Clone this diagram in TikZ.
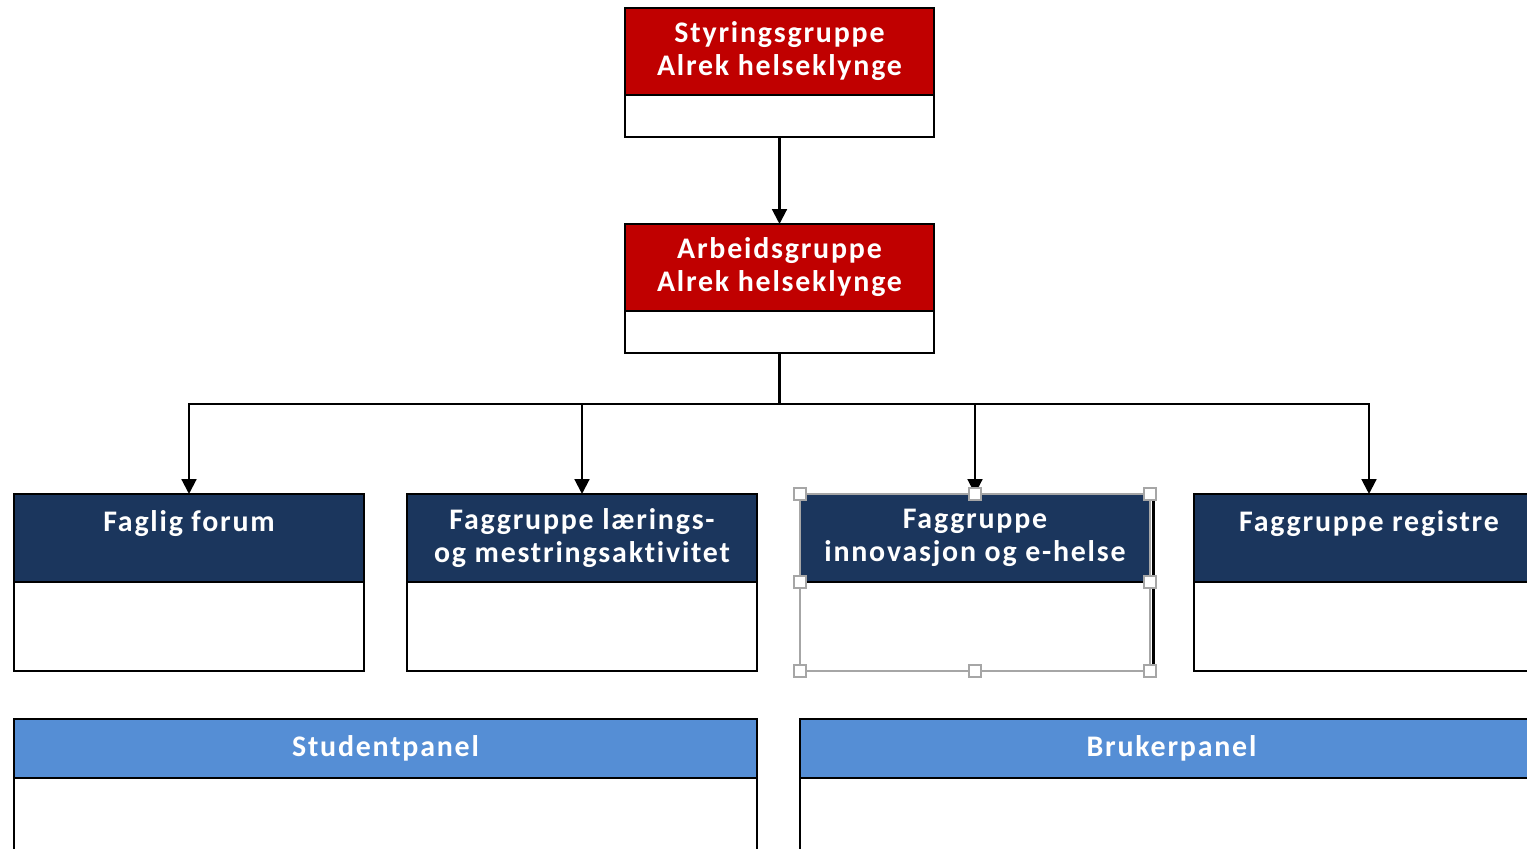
\documentclass[tikz,border=0pt]{standalone}
\usepackage{fontspec}
\setmainfont{Carlito}
\newfontfamily\boxfont[LetterSpace=6,Ligatures=NoCommon]{Carlito}
\usetikzlibrary{positioning,arrows.meta}

\definecolor{alrekred}{RGB}{192,0,0}
\definecolor{alreknavy}{RGB}{27,54,93}
\definecolor{alrekblue}{RGB}{85,142,213}

\tikzset{
  head/.style={draw=black, line width=0.6pt, text=white, align=center,
    inner sep=0pt, outer sep=0pt,
    font=\boxfont\bfseries\fontsize{8.5}{9.4}\selectfont},
  redhead/.style={head, fill=alrekred, minimum width=3.08cm, minimum height=0.87cm},
  navyhead/.style={head, fill=alreknavy, minimum width=3.5cm, minimum height=0.88cm},
  bluehead/.style={head, fill=alrekblue, minimum width=7.43cm, minimum height=0.59cm},
  bodybox/.style={draw=black, fill=white, line width=0.6pt, inner sep=0pt, outer sep=0pt},
  arr/.style={line width=0.6pt, -{Triangle[length=4.2pt,width=4.2pt]}},
  grip/.style={draw=gray!70, fill=white, line width=0.5pt}
}

\begin{document}
\begin{tikzpicture}[x=0.01cm,y=-0.01cm]

    \clip (0,0) rectangle (1527,848);
    \fill[white] (0,0) rectangle (1527,848);

    % top: styring and arbeid
    \node[redhead] (sty) at (779.5,51.5) {Styringsgruppe\\Alrek helseklynge};
    \node[bodybox, minimum width=3.08cm, minimum height=0.42cm, below=0pt of sty] (styb) {};
    \node[redhead] (arb) at (779.5,267.5) {Arbeidsgruppe\\Alrek helseklynge};
    \node[bodybox, minimum width=3.08cm, minimum height=0.42cm, below=0pt of arb] (arbb) {};

    % faggrupper
    \node[navyhead] (fag) at (189,538) {Faglig forum\\\mbox{}};
    \node[bodybox, minimum width=3.5cm, minimum height=0.89cm, below=0pt of fag] (fagb) {};
    \node[navyhead] (lar) at (582,538) {Faggruppe lærings-\\og mestringsaktivitet};
    \node[bodybox, minimum width=3.5cm, minimum height=0.89cm, below=0pt of lar] (larb) {};
    \node[navyhead, draw=gray!70] (inn) at (975,538) {Faggruppe\\innovasjon og e-helse};
    \node[bodybox, draw=gray!70, minimum width=3.5cm, minimum height=0.89cm, below=0pt of inn] (innb) {};
    \node[navyhead] (reg) at (1369,538) {Faggruppe registre\\\mbox{}};
    \node[bodybox, minimum width=3.5cm, minimum height=0.89cm, below=0pt of reg] (regb) {};

    % panels
    \node[bluehead] (stu) at (385.5,748.5) {Studentpanel};
    \node[bodybox, minimum width=7.43cm, minimum height=1cm, below=0pt of stu] (stub) {};
    \node[bluehead] (bru) at (1171.5,748.5) {Brukerpanel};
    \node[bodybox, minimum width=7.43cm, minimum height=1cm, below=0pt of bru] (brub) {};

    \draw[arr] (styb.south) -- (arb.north);
    \coordinate (split) at (779.5,404);
    \draw[line width=0.6pt] (arbb.south) -- (split);
    \foreach \n in {fag,lar,inn,reg}
        \draw[arr] (split) -| (\n.north);

    % selection frame
    \draw[line width=0.6pt] (inn.south west) -- (inn.south east);
    \draw[line width=0.8pt] ([xshift=1pt]inn.north east) -- ([xshift=1pt]innb.south east);
    \foreach \hx/\hy in {800/494,975/494,1150/494,800/582,1150/582,800/671,975/671,1150/671}
        \draw[grip] (\hx-6,\hy-6) rectangle +(12,12);

\end{tikzpicture}
\end{document}
